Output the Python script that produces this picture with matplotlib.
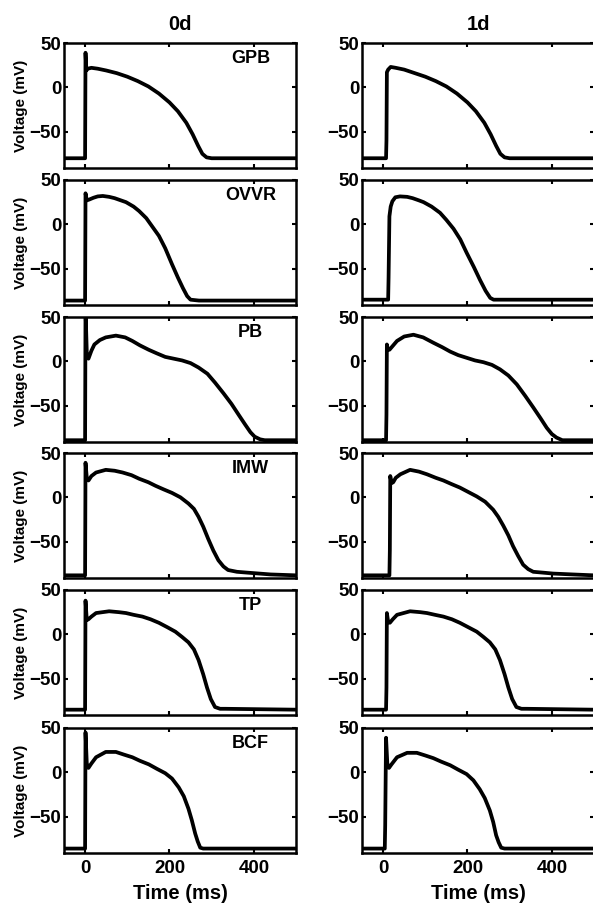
import matplotlib.pyplot as plt

plt.rcParams['font.family'] = ['Liberation Sans', 'DejaVu Sans']
plt.rcParams['font.weight'] = 'bold'

models = ['GPB', 'OVVR', 'PB', 'IMW', 'TP', 'BCF']
days = ['0d', '1d']
x_ticks = [0, 200, 400]
y_ticks = [-50, 0, 50]

# action potentials (time in ms, voltage in mV)
gpb_0d_t = [-50, 0, 1, 3, 6, 15, 30, 50, 75, 100, 125, 150, 175, 200, 220, 240, 255, 268, 278, 288, 300, 400, 500]
gpb_0d_v = [-80, -80, 39, 19, 21, 22, 21, 19, 16, 12, 7, 1, -7, -17, -27, -40, -53, -66, -75, -79, -80, -80, -80]
gpb_1d_t = [-50, 7, 8, 9, 12, 18, 30, 50, 75, 100, 125, 150, 175, 200, 220, 240, 255, 268, 278, 288, 300, 400, 500]
gpb_1d_v = [-80, -80, -60, 17, 20, 23, 22, 20, 16, 12, 7, 1, -7, -17, -27, -40, -53, -66, -75, -79, -80, -80, -80]

ovvr_0d_t = [-50, 0, 1, 4, 10, 20, 30, 42, 57, 70, 85, 97, 115, 128, 145, 160, 175, 190, 206, 220, 232, 242, 250,
             270, 500]
ovvr_0d_v = [-86, -86, 35, 27, 28, 30, 31.5, 32, 31, 29.5, 27, 25, 20, 15, 7, -3, -13, -27, -45, -60, -72, -81, -85,
             -86, -86]
ovvr_1d_t = [-50, 12, 13, 15, 18, 22, 29, 40, 57, 70, 85, 96, 115, 135, 150, 167, 183, 198, 215, 230, 243, 254, 262,
             270, 500]
ovvr_1d_v = [-85, -85, -60, 9, 20, 26, 30.5, 31.5, 31, 29.5, 27, 25, 20, 13, 5, -5, -17, -32, -48, -63, -75, -83, -85,
             -85, -85]

pb_0d_t = [-50, 0, 1, 4, 8, 15, 22, 35, 49, 73, 95, 112, 130, 151, 170, 190, 210, 230, 250, 269, 290, 308, 328, 347,
           365, 379, 392, 402, 415, 426, 500]
pb_0d_v = [-89, -89, 60, 10, 3, 12, 19, 24, 27, 29, 27, 23, 18, 13, 9, 5, 3, 1, -2, -7, -14, -24, -36, -48,
           -61, -71, -80, -85, -88, -89, -89]
pb_1d_t = [-50, 7, 8, 9, 11, 15, 33, 50, 72, 95, 119, 140, 159, 178, 198, 218, 238, 258, 277, 297, 317, 337, 356,
           373, 388, 400, 411, 425, 500]
pb_1d_v = [-89, -89, -60, 19, 14, 13, 23, 28, 30, 27, 21, 16, 11, 7, 4, 1, -1, -4, -9, -16, -26, -39, -52,
           -64, -75, -82, -86, -89, -89]

imw_0d_t = [-50, 0, 1, 4, 8, 15, 26, 49, 70, 89, 110, 128, 150, 167, 186, 206, 226, 245, 258, 269, 280, 292, 304,
            316, 328, 339, 360, 386, 440, 500]
imw_0d_v = [-88, -88, 39, 22, 19, 24, 28, 31, 30, 28, 25, 21, 17, 13, 9, 5, 0, -7, -13, -22, -33, -47, -60,
            -71, -78, -82, -84, -85, -87, -88]
imw_1d_t = [-50, 15, 16, 17, 20, 24, 30, 41, 64, 85, 104, 125, 143, 162, 182, 202, 222, 242, 261, 273, 285, 297,
            308, 320, 332, 344, 356, 380, 403, 450, 500]
imw_1d_v = [-88, -88, -60, 24, 16, 17, 22, 26, 31, 29, 26, 22, 19, 15, 11, 6, 1, -5, -14, -22, -32, -43,
            -55, -66, -76, -81, -84, -85, -86, -87, -88]

tp_0d_t = [-50, 0, 1, 4, 8, 15, 26, 57, 80, 97, 115, 136, 155, 175, 195, 214, 230, 245, 258, 269, 280, 289, 298,
           308, 320, 332, 500]
tp_0d_v = [-85, -85, 38, 16, 17, 20, 24, 26, 25, 24, 22, 20, 17, 13, 8, 3, -3, -9, -17, -29, -45, -60, -73,
           -82, -84, -84, -85]
tp_1d_t = [-50, 7, 8, 9, 12, 16, 23, 33, 64, 88, 104, 123, 143, 163, 182, 202, 222, 238, 253, 266, 277, 288, 297,
           306, 316, 328, 340, 500]
tp_1d_v = [-85, -85, -60, 24, 14, 13, 17, 22, 26, 25, 24, 22, 20, 17, 13, 8, 3, -3, -9, -17, -29, -45, -60,
           -73, -82, -84, -84, -85]

bcf_0d_t = [-50, 0, 1, 4, 8, 15, 26, 49, 73, 92, 112, 130, 151, 170, 190, 206, 222, 234, 245, 253, 261, 267, 273,
            280, 500]
bcf_0d_v = [-86, -86, 45, 10, 5, 10, 17, 23, 23, 20, 17, 13, 9, 4, -1, -7, -17, -27, -41, -54, -69, -78, -85,
            -86, -86]
bcf_1d_t = [-50, 4, 5, 7, 10, 14, 20, 33, 57, 80, 100, 119, 138, 159, 178, 198, 214, 229, 241, 253, 261, 268, 274,
            280, 288, 500]
bcf_1d_v = [-86, -86, -60, 39, 10, 5, 9, 17, 22, 22, 19, 16, 12, 8, 3, -2, -9, -19, -29, -43, -56, -71, -79,
            -85, -86, -86]

traces = {
    ('GPB', '0d'): (gpb_0d_t, gpb_0d_v), ('GPB', '1d'): (gpb_1d_t, gpb_1d_v),
    ('OVVR', '0d'): (ovvr_0d_t, ovvr_0d_v), ('OVVR', '1d'): (ovvr_1d_t, ovvr_1d_v),
    ('PB', '0d'): (pb_0d_t, pb_0d_v), ('PB', '1d'): (pb_1d_t, pb_1d_v),
    ('IMW', '0d'): (imw_0d_t, imw_0d_v), ('IMW', '1d'): (imw_1d_t, imw_1d_v),
    ('TP', '0d'): (tp_0d_t, tp_0d_v), ('TP', '1d'): (tp_1d_t, tp_1d_v),
    ('BCF', '0d'): (bcf_0d_t, bcf_0d_v), ('BCF', '1d'): (bcf_1d_t, bcf_1d_v),
}

W, H = 593, 906
fig = plt.figure(figsize=(W / 100, H / 100), dpi=100)

col_left = [64, 362]
ax_w = 232
ax_h = 125
row_top = [43, 180, 317, 453, 590, 728]

for r, model in enumerate(models):
    for c, day in enumerate(days):
        ax = fig.add_axes([col_left[c] / W, 1 - (row_top[r] + ax_h) / H, ax_w / W, ax_h / H])
        t, v = traces[(model, day)]
        ax.plot(t, v, color='black', lw=2.7, solid_joinstyle='round')
        ax.set_xlim(-50, 500)
        ax.set_ylim(-91, 50)
        ax.set_xticks(x_ticks)
        ax.set_yticks(y_ticks)
        ax.tick_params(direction='in', top=True, right=True, length=3, width=1.5,
                       labelsize=13.5, pad=2)
        for s in ax.spines.values():
            s.set_linewidth(1.8)
        if r < len(models) - 1:
            ax.set_xticklabels([])
        else:
            ax.tick_params(axis='x', pad=5)
            ax.set_xlabel('Time (ms)', fontsize=14.5, fontweight='bold', labelpad=5)
        if c == 0:
            ax.set_ylabel('Voltage (mV)', fontsize=11, fontweight='bold', labelpad=1)
            ax.text(392, 33, model, ha='center', va='center', fontsize=13, fontweight='bold')
        if r == 0:
            ax.set_title(day, fontsize=14.5, fontweight='bold', pad=9)

fig.savefig('out.png', dpi=100)
